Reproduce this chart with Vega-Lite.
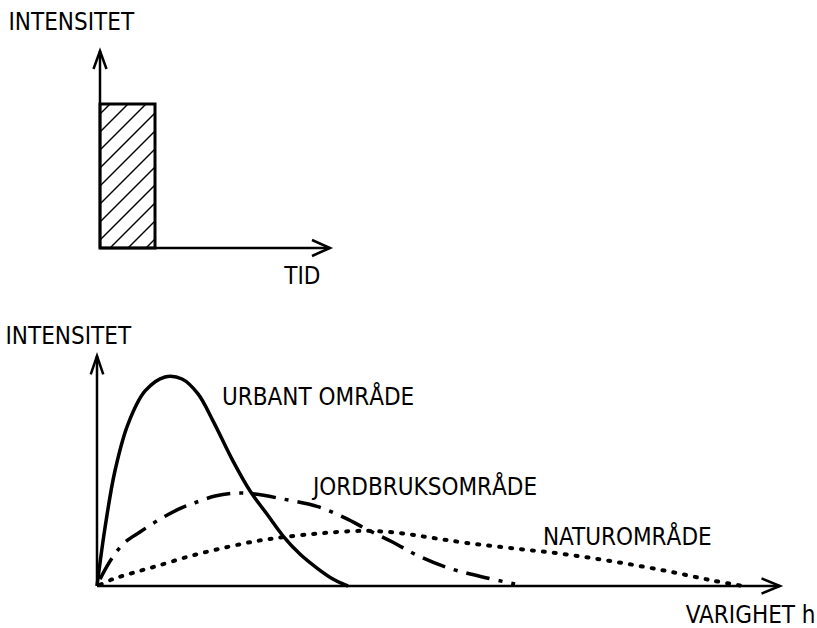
{
  "$schema": "https://vega.github.io/schema/vega-lite/v6.json",
  "background": "white",
  "padding": {"left": 5, "top": 10, "right": 0, "bottom": 0},
  "bounds": "flush",
  "spacing": 108,
  "config": {
    "view": {"stroke": null},
    "axis": {"domain": false, "ticks": false, "labels": false, "grid": false,
      "titleFont": "DejaVu Sans Condensed", "titleFontSize": 24, "titleFontWeight": "normal",
      "titleColor": "#000", "titleAngle": 0, "titleBaseline": "middle"},
    "text": {"font": "DejaVu Sans Condensed", "fontSize": 24}
  },
  "datasets": {
    "topArrows": [
      {"id": "xa", "seq": 0, "x": 0, "y": 0}, {"id": "xa", "seq": 1, "x": 23, "y": 0},
      {"id": "ya", "seq": 0, "x": 0, "y": 0}, {"id": "ya", "seq": 1, "x": 0, "y": 19.7},
      {"id": "xc", "seq": 0, "x": 21.2, "y": 0.8}, {"id": "xc", "seq": 1, "x": 23, "y": 0}, {"id": "xc", "seq": 2, "x": 21.2, "y": -0.8},
      {"id": "yc", "seq": 0, "x": -0.65, "y": 17.9}, {"id": "yc", "seq": 1, "x": 0, "y": 19.7}, {"id": "yc", "seq": 2, "x": 0.65, "y": 17.9}
    ],
    "rain": [{"start": 0, "end": 5.5, "low": 0, "high": 14.4}],
    "hatch": [
      {"x": 4.6, "y": 0, "x2": 5.5, "y2": 0.9},
      {"x": 2.8, "y": 0, "x2": 5.5, "y2": 2.7},
      {"x": 1.0, "y": 0, "x2": 5.5, "y2": 4.5},
      {"x": 0, "y": 0.8, "x2": 5.5, "y2": 6.3},
      {"x": 0, "y": 2.6, "x2": 5.5, "y2": 8.1},
      {"x": 0, "y": 4.4, "x2": 5.5, "y2": 9.9},
      {"x": 0, "y": 6.2, "x2": 5.5, "y2": 11.7},
      {"x": 0, "y": 8.0, "x2": 5.5, "y2": 13.5},
      {"x": 0, "y": 9.8, "x2": 4.6, "y2": 14.4},
      {"x": 0, "y": 11.6, "x2": 2.8, "y2": 14.4},
      {"x": 0, "y": 13.4, "x2": 1.0, "y2": 14.4}
    ],
    "botArrows": [
      {"id": "xa", "seq": 0, "x": 0, "y": 0}, {"id": "xa", "seq": 1, "x": 24, "y": 0},
      {"id": "ya", "seq": 0, "x": 0, "y": 0}, {"id": "ya", "seq": 1, "x": 0, "y": 10},
      {"id": "xc", "seq": 0, "x": 23.35, "y": 0.33}, {"id": "xc", "seq": 1, "x": 24, "y": 0}, {"id": "xc", "seq": 2, "x": 23.35, "y": -0.33},
      {"id": "yc", "seq": 0, "x": -0.22, "y": 9.2}, {"id": "yc", "seq": 1, "x": 0, "y": 10}, {"id": "yc", "seq": 2, "x": 0.22, "y": 9.2}
    ],
    "urban": [
      {"h": 0, "q": 0}, {"h": 0.28, "q": 2.52}, {"h": 0.63, "q": 5.0}, {"h": 1.09, "q": 7.04},
      {"h": 1.69, "q": 8.48}, {"h": 2.39, "q": 9.09}, {"h": 2.99, "q": 9.0}, {"h": 3.55, "q": 8.35},
      {"h": 4.08, "q": 7.17}, {"h": 4.78, "q": 5.43}, {"h": 5.38, "q": 4.13}, {"h": 5.97, "q": 3.13},
      {"h": 6.54, "q": 2.17}, {"h": 7.13, "q": 1.39}, {"h": 7.73, "q": 0.78}, {"h": 8.29, "q": 0.3},
      {"h": 8.64, "q": 0.09}, {"h": 8.82, "q": 0}
    ],
    "agri": [
      {"h": 0.105, "q": 0.3}, {"h": 0.53, "q": 1.22}, {"h": 0.98, "q": 1.9}, {"h": 1.51, "q": 2.35},
      {"h": 2.14, "q": 2.85}, {"h": 2.85, "q": 3.33}, {"h": 3.44, "q": 3.62}, {"h": 4.15, "q": 3.91},
      {"h": 4.85, "q": 4.04}, {"h": 5.55, "q": 4.0}, {"h": 6.54, "q": 3.78}, {"h": 7.73, "q": 3.46},
      {"h": 8.71, "q": 2.96}, {"h": 9.49, "q": 2.46}, {"h": 10.4, "q": 1.9}, {"h": 11.24, "q": 1.34},
      {"h": 12.3, "q": 0.8}, {"h": 13.7, "q": 0.35}, {"h": 14.69, "q": 0.09}
    ],
    "nature": [
      {"h": 0.105, "q": 0.05}, {"h": 0.56, "q": 0.3}, {"h": 1.26, "q": 0.57}, {"h": 2.11, "q": 0.87},
      {"h": 3.27, "q": 1.3}, {"h": 4.43, "q": 1.65}, {"h": 5.62, "q": 1.96}, {"h": 6.61, "q": 2.13},
      {"h": 7.94, "q": 2.3}, {"h": 9.42, "q": 2.4}, {"h": 10.65, "q": 2.3}, {"h": 11.8, "q": 2.09},
      {"h": 13.0, "q": 1.87}, {"h": 14.76, "q": 1.62}, {"h": 16.51, "q": 1.37}, {"h": 18.27, "q": 1.04},
      {"h": 20.03, "q": 0.65}, {"h": 21.54, "q": 0.26}, {"h": 22.7, "q": 0}
    ],
    "labels": [
      {"label": "URBANT OMRÅDE", "h": 4.39, "q": 8.17},
      {"label": "JORDBRUKSOMRÅDE", "h": 7.59, "q": 4.26},
      {"label": "NATUROMRÅDE", "h": 15.67, "q": 2.09}
    ]
  },
  "vconcat": [
    {
      "width": 233,
      "height": 197,
      "encoding": {
        "x": {"type": "quantitative", "scale": {"domain": [-0.3, 23], "nice": false, "zero": false},
          "axis": {"title": "TID", "titleX": 223, "titleY": 28, "titleAlign": "right"}},
        "y": {"type": "quantitative", "scale": {"domain": [0, 19.7], "nice": false, "zero": false},
          "axis": {"title": "INTENSITET", "titleX": -89, "titleY": -29, "titleAlign": "left"}}
      },
      "layer": [
        {
          "data": {"name": "rain"},
          "mark": {"type": "rect", "fill": null, "stroke": "#000", "strokeWidth": 3},
          "encoding": {
            "x": {"field": "start", "type": "quantitative"}, "x2": {"field": "end"},
            "y": {"field": "low", "type": "quantitative"}, "y2": {"field": "high"}
          }
        },
        {
          "data": {"name": "hatch"},
          "mark": {"type": "rule", "stroke": "#000", "strokeWidth": 1.5},
          "encoding": {
            "x": {"field": "x", "type": "quantitative"}, "x2": {"field": "x2"},
            "y": {"field": "y", "type": "quantitative"}, "y2": {"field": "y2"}
          }
        },
        {
          "data": {"name": "topArrows"},
          "mark": {"type": "line", "stroke": "#000", "strokeWidth": 2.5, "strokeJoin": "miter"},
          "encoding": {
            "x": {"field": "x", "type": "quantitative"},
            "y": {"field": "y", "type": "quantitative"},
            "detail": {"field": "id"},
            "order": {"field": "seq"}
          }
        }
      ]
    },
    {
      "width": 683,
      "height": 230,
      "encoding": {
        "x": {"type": "quantitative", "scale": {"domain": [0, 24], "nice": false, "zero": false},
          "axis": {"title": "VARIGHET   h", "titleX": 718, "titleY": 29, "titleAlign": "right"}},
        "y": {"type": "quantitative", "scale": {"domain": [0, 10], "nice": false, "zero": false},
          "axis": {"title": "INTENSITET", "titleX": -92, "titleY": -20, "titleAlign": "left"}}
      },
      "layer": [
        {
          "data": {"name": "botArrows"},
          "mark": {"type": "line", "stroke": "#000", "strokeWidth": 2.5, "strokeJoin": "miter"},
          "encoding": {
            "x": {"field": "x", "type": "quantitative"},
            "y": {"field": "y", "type": "quantitative"},
            "detail": {"field": "id"},
            "order": {"field": "seq"}
          }
        },
        {
          "data": {"name": "urban"},
          "mark": {"type": "line", "stroke": "#000", "strokeWidth": 3.5, "interpolate": "catmull-rom"},
          "encoding": {"x": {"field": "h", "type": "quantitative"}, "y": {"field": "q", "type": "quantitative"}}
        },
        {
          "data": {"name": "agri"},
          "mark": {"type": "line", "stroke": "#000", "strokeWidth": 3.5, "interpolate": "catmull-rom", "strokeDash": [24, 9, 4, 9]},
          "encoding": {"x": {"field": "h", "type": "quantitative"}, "y": {"field": "q", "type": "quantitative"}}
        },
        {
          "data": {"name": "nature"},
          "mark": {"type": "line", "stroke": "#000", "strokeWidth": 4, "interpolate": "catmull-rom", "strokeDash": [2, 9], "strokeCap": "round"},
          "encoding": {"x": {"field": "h", "type": "quantitative"}, "y": {"field": "q", "type": "quantitative"}}
        },
        {
          "data": {"name": "labels"},
          "mark": {"type": "text", "align": "left", "baseline": "middle", "color": "#000"},
          "encoding": {
            "x": {"field": "h", "type": "quantitative"},
            "y": {"field": "q", "type": "quantitative"},
            "text": {"field": "label"}
          }
        }
      ]
    }
  ]
}
